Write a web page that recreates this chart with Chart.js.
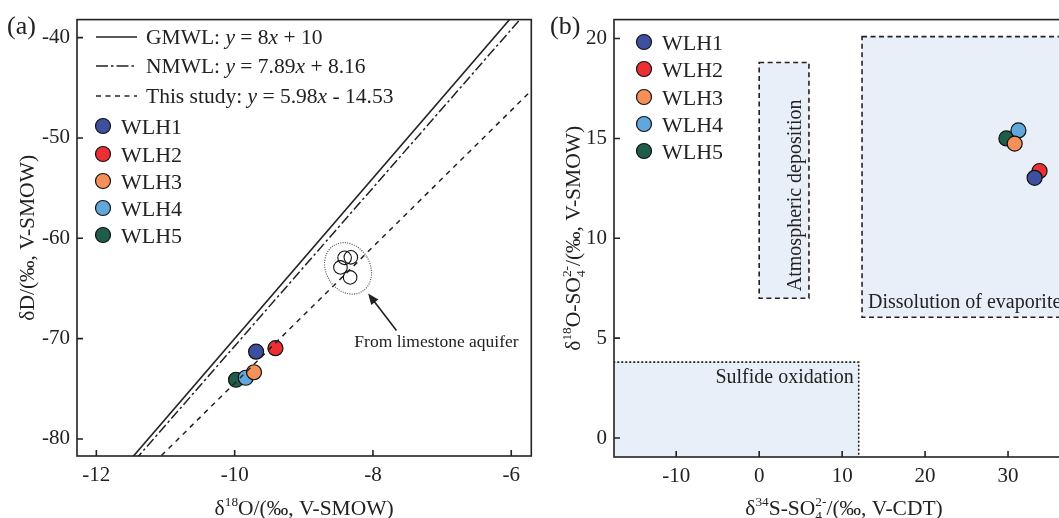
<!DOCTYPE html>
<html>
<head>
<meta charset="utf-8">
<script src="https://cdn.jsdelivr.net/npm/chart.js@4.4.1/dist/chart.umd.min.js"></script>
<style>
    html, body { margin: 0; padding: 0; background: #fff; overflow: hidden; }
    #wrap { position: relative; width: 1059px; height: 518px; overflow: hidden; }
    #chartA { position: absolute; left: 0; top: 0; }
    #chartB { position: absolute; left: 540px; top: 0; }
</style>
</head>
<body>
<div id="wrap">
    <canvas id="chartA" width="540" height="518"></canvas>
    <canvas id="chartB" width="560" height="518"></canvas>
</div>
<script>
const sites = ["WLH1", "WLH2", "WLH3", "WLH4", "WLH5"];
const siteColors = ["#3f4f9f", "#ec2f33", "#f59158", "#62a7db", "#1f5d4b"];

// (a) water isotopes
const d18O = [-9.69, -9.41, -9.72, -9.84, -9.98];
const dD = [-71.3, -70.95, -73.35, -73.9, -74.1];
const limeO = [-8.41, -8.32, -8.47, -8.33];
const limeD = [-61.95, -61.9, -62.9, -63.9];
const limeZone = [-8.36, -63.0];
const arrowTail = [-7.66, -69.2];
const arrowHead = [-8.07, -65.5];
const lineX = [-12.5, -5.5];
const gmwlY = [-90, -34];
const nmwlY = [-90.47, -35.24];
const studyY = [-91.45, -43.85];
const xTicksA = [-12, -10, -8, -6];
const yTicksA = [-80, -70, -60, -50, -40];

// (b) sulfate isotopes
const d34S = [33.2, 33.8, 30.8, 31.25, 29.8];
const d18OS = [13.03, 13.37, 14.74, 15.4, 15.0];
const regionNames = ["Sulfide oxidation", "Atmospheric deposition", "Dissolution of evaporite"];
const regionX = [[-20, 12], [0, 6], [12.4, 50]];
const regionY = [[-2, 3.8], [7, 18.8], [6.05, 20.1]];
const xTicksB = [-10, 0, 10, 20, 30];
const yTicksB = [0, 5, 10, 15, 20];

const SERIF = '"Liberation Serif", "Times New Roman", serif';
const INK = "#222";

// parts: [text, mode] 0 normal, 1 sup, 2 sub, 3 italic, 4 sup stacked over previous
function richText(ctx, parts, x, y, size, align, rotate) {
    ctx.save();
    ctx.translate(x, y);
    if (rotate) ctx.rotate(-Math.PI / 2);
    ctx.textAlign = "left";
    ctx.textBaseline = "alphabetic";
    let w = 0, prevW = 0;
    const info = parts.map((p) => {
        const small = p[1] === 1 || p[1] === 2 || p[1] === 4;
        const f = (p[1] === 3 ? "italic " : "") + (small ? size * 0.62 : size) + "px " + SERIF;
        ctx.font = f;
        const pw = ctx.measureText(p[0]).width;
        let adv = pw;
        if (p[1] === 4) adv = Math.max(0, pw - prevW);
        w += adv;
        prevW = pw;
        return { f, pw, adv };
    });
    let cx = align === "center" ? -w / 2 : align === "right" ? -w : 0;
    let lastX = cx;
    parts.forEach((p, i) => {
        ctx.font = info[i].f;
        const dy = p[1] === 1 || p[1] === 4 ? -size * 0.4 : p[1] === 2 ? size * 0.22 : 0;
        const px = p[1] === 4 ? lastX : cx;
        ctx.fillStyle = INK;
        ctx.fillText(p[0], px, dy);
        lastX = px;
        cx = px + (p[1] === 4 ? Math.max(info[i].pw, info[i - 1].pw) : info[i].pw);
    });
    ctx.restore();
}

function marker(ctx, x, y, color) {
    ctx.beginPath();
    ctx.arc(x, y, 7.5, 0, Math.PI * 2);
    ctx.fillStyle = color;
    ctx.fill();
    ctx.lineWidth = 1.2;
    ctx.strokeStyle = "#111";
    ctx.stroke();
}

const frame = {
    id: "frame",
    afterDraw(chart) {
        const { ctx, chartArea: a, scales: { x, y } } = chart;
        ctx.save();
        ctx.strokeStyle = INK;
        ctx.lineWidth = 1.6;
        ctx.setLineDash([]);
        ctx.strokeRect(a.left, a.top, a.right - a.left, a.bottom - a.top);
        ctx.beginPath();
        x.ticks.forEach((t) => {
            const px = x.getPixelForValue(t.value);
            ctx.moveTo(px, a.bottom);
            ctx.lineTo(px, a.bottom - 6);
        });
        y.ticks.forEach((t) => {
            const py = y.getPixelForValue(t.value);
            ctx.moveTo(a.left, py);
            ctx.lineTo(a.left + 6, py);
        });
        ctx.stroke();
        ctx.restore();
    },
};

function axisScales(xMin, xMax, yMin, yMax, xt, yt, yWidth, xHeight) {
    const tick = { color: INK, font: { family: SERIF, size: 21 }, callback: (v) => String(v) };
    return {
        x: {
            type: "linear", min: xMin, max: xMax,
            grid: { display: false, drawTicks: false },
            border: { display: false },
            ticks: { ...tick, padding: 7, maxRotation: 0 },
            afterBuildTicks: (s) => { s.ticks = xt.map((v) => ({ value: v })); },
            afterFit: (s) => { s.height = xHeight; },
        },
        y: {
            type: "linear", min: yMin, max: yMax,
            grid: { display: false, drawTicks: false },
            border: { display: false },
            ticks: { ...tick, padding: 7 },
            afterBuildTicks: (s) => { s.ticks = yt.map((v) => ({ value: v })); },
            afterFit: (s) => { s.width = yWidth; },
        },
    };
}

const baseOpts = {
    responsive: false,
    animation: false,
    events: [],
    plugins: { legend: { display: false }, tooltip: { enabled: false } },
};

// ---------- panel (a) ----------
const decorA = {
    id: "decorA",
    afterDatasetsDraw(chart) {
        const { ctx, scales: { x, y } } = chart;
        ctx.save();
        // dotted zone around limestone samples
        ctx.beginPath();
        ctx.ellipse(x.getPixelForValue(limeZone[0]), y.getPixelForValue(limeZone[1]), 22, 27, -0.55, 0, Math.PI * 2);
        ctx.setLineDash([1, 1.3]);
        ctx.lineWidth = 1.2;
        ctx.strokeStyle = "#555";
        ctx.stroke();
        // arrow
        const tx = x.getPixelForValue(arrowTail[0]), ty = y.getPixelForValue(arrowTail[1]);
        const hx = x.getPixelForValue(arrowHead[0]), hy = y.getPixelForValue(arrowHead[1]);
        const ang = Math.atan2(hy - ty, hx - tx);
        ctx.setLineDash([]);
        ctx.strokeStyle = INK;
        ctx.lineWidth = 1.6;
        ctx.beginPath();
        ctx.moveTo(tx, ty);
        ctx.lineTo(hx - 6 * Math.cos(ang), hy - 6 * Math.sin(ang));
        ctx.stroke();
        ctx.beginPath();
        ctx.moveTo(hx, hy);
        ctx.lineTo(hx - 11 * Math.cos(ang) + 4.5 * Math.sin(ang), hy - 11 * Math.sin(ang) - 4.5 * Math.cos(ang));
        ctx.lineTo(hx - 11 * Math.cos(ang) - 4.5 * Math.sin(ang), hy - 11 * Math.sin(ang) + 4.5 * Math.cos(ang));
        ctx.closePath();
        ctx.fillStyle = INK;
        ctx.fill();
        richText(ctx, [["From limestone aquifer", 0]], tx + 40, ty + 16, 17.5, "center");
        ctx.restore();
    },
    afterDraw(chart) {
        const { ctx, chartArea: a } = chart;
        ctx.save();
        // legend: lines
        const lineRows = [
            { y: 37, dash: [], parts: [["GMWL: ", 0], ["y", 3], [" = 8", 0], ["x", 3], [" + 10", 0]] },
            { y: 66, dash: [12, 3, 2.5, 3], parts: [["NMWL: ", 0], ["y", 3], [" = 7.89", 0], ["x", 3], [" + 8.16", 0]] },
            { y: 96, dash: [5, 4.5], parts: [["This study: ", 0], ["y", 3], [" = 5.98", 0], ["x", 3], [" - 14.53", 0]] },
        ];
        lineRows.forEach((r) => {
            ctx.beginPath();
            ctx.setLineDash(r.dash);
            ctx.strokeStyle = INK;
            ctx.lineWidth = 1.5;
            ctx.moveTo(96, r.y);
            ctx.lineTo(137, r.y);
            ctx.stroke();
            richText(ctx, r.parts, 146, r.y + 7, 21.5, "left");
        });
        ctx.setLineDash([]);
        const rows = [126, 154, 181, 208, 235];
        sites.forEach((s, i) => {
            marker(ctx, 103, rows[i], siteColors[i]);
            richText(ctx, [[s, 0]], 121, rows[i] + 7.5, 22, "left");
        });
        // panel letter and axis titles
        richText(ctx, [["(a)", 0]], 7, 34, 26, "left");
        richText(ctx, [["δ", 0], ["18", 1], ["O/(‰, V-SMOW)", 0]], (a.left + a.right) / 2, 515, 21.5, "center");
        richText(ctx, [["δD/(‰, V-SMOW)", 0]], 34, (a.top + a.bottom) / 2, 21.5, "center", true);
        ctx.restore();
    },
};

new Chart(document.getElementById("chartA"), {
    type: "scatter",
    data: {
        datasets: [
            {
                type: "line", label: "GMWL", order: 0,
                data: lineX.map((v, i) => ({ x: v, y: gmwlY[i] })),
                borderColor: INK, borderWidth: 1.6, pointRadius: 0,
            },
            {
                type: "line", label: "NMWL", order: 0,
                data: lineX.map((v, i) => ({ x: v, y: nmwlY[i] })),
                borderColor: INK, borderWidth: 1.5, borderDash: [10, 3, 2.5, 3], pointRadius: 0,
            },
            {
                type: "line", label: "This study", order: 0,
                data: lineX.map((v, i) => ({ x: v, y: studyY[i] })),
                borderColor: INK, borderWidth: 1.5, borderDash: [5, 5], pointRadius: 0,
            },
            {
                label: "Limestone aquifer", order: 1,
                data: limeO.map((v, i) => ({ x: v, y: limeD[i] })),
                backgroundColor: "rgba(0,0,0,0)", borderColor: "#111", borderWidth: 1.1, pointRadius: 6.8,
            },
            ...sites.map((s, i) => ({
                label: s, order: 1,
                data: [{ x: d18O[i], y: dD[i] }],
                backgroundColor: siteColors[i], borderColor: "#111", borderWidth: 1.2, pointRadius: 7.5,
            })),
        ],
    },
    options: {
        ...baseOpts,
        layout: { padding: { left: 0, right: 8, top: 17, bottom: 0 } },
        scales: axisScales(-12.28, -5.71, -81.7, -38.2, xTicksA, yTicksA, 77, 62),
    },
    plugins: [decorA, frame],
});

// ---------- panel (b) ----------
const decorB = {
    id: "decorB",
    beforeDatasetsDraw(chart) {
        const { ctx, chartArea: a, scales: { x, y } } = chart;
        ctx.save();
        ctx.beginPath();
        ctx.rect(a.left, a.top, a.right - a.left, a.bottom - a.top);
        ctx.clip();
        const boxes = regionNames.map((n, i) => {
            const l = x.getPixelForValue(regionX[i][0]), r = x.getPixelForValue(regionX[i][1]);
            const t = y.getPixelForValue(regionY[i][1]), b = y.getPixelForValue(regionY[i][0]);
            ctx.fillStyle = "#e8eff8";
            ctx.fillRect(l, t, r - l, b - t);
            ctx.setLineDash(i === 0 ? [2, 2] : [5, 3.5]);
            ctx.lineWidth = 1.6;
            ctx.strokeStyle = INK;
            ctx.strokeRect(l, t, r - l, b - t);
            return { l, r, t, b };
        });
        ctx.setLineDash([]);
        richText(ctx, [[regionNames[0], 0]], boxes[0].r - 5, boxes[0].t + 21, 20, "right");
        richText(ctx, [[regionNames[1], 0]], (boxes[1].l + boxes[1].r) / 2 + 17, (boxes[1].t + boxes[1].b) / 2 + 15, 20, "center", true);
        richText(ctx, [[regionNames[2], 0]], boxes[2].l + 6, boxes[2].b - 9, 20, "left");
        ctx.restore();
    },
    afterDraw(chart) {
        const { ctx, chartArea: a } = chart;
        ctx.save();
        const rows = [42, 69, 97, 124, 151];
        sites.forEach((s, i) => {
            marker(ctx, 104, rows[i], siteColors[i]);
            richText(ctx, [[s, 0]], 122, rows[i] + 7.5, 22, "left");
        });
        richText(ctx, [["(b)", 0]], 10, 34, 26, "left");
        richText(ctx, [["δ", 0], ["34", 1], ["S-SO", 0], ["4", 2], ["2-", 4], ["/(‰, V-CDT)", 0]], 304, 515, 21.5, "center");
        richText(ctx, [["δ", 0], ["18", 1], ["O-SO", 0], ["4", 2], ["2-", 4], ["/(‰, V-SMOW)", 0]], 40, (a.top + a.bottom) / 2, 21.5, "center", true);
        ctx.restore();
    },
};

new Chart(document.getElementById("chartB"), {
    type: "scatter",
    data: {
        datasets: sites.map((s, i) => ({
            label: s,
            data: [{ x: d34S[i], y: d18OS[i] }],
            backgroundColor: siteColors[i], borderColor: "#111", borderWidth: 1.2, pointRadius: 7.5,
        })),
    },
    options: {
        ...baseOpts,
        layout: { padding: { left: 0, right: 9, top: 17, bottom: 0 } },
        scales: axisScales(-17.5, 40, -0.95, 20.95, xTicksB, yTicksB, 74, 61),
    },
    plugins: [decorB, frame],
});
</script>
</body>
</html>
